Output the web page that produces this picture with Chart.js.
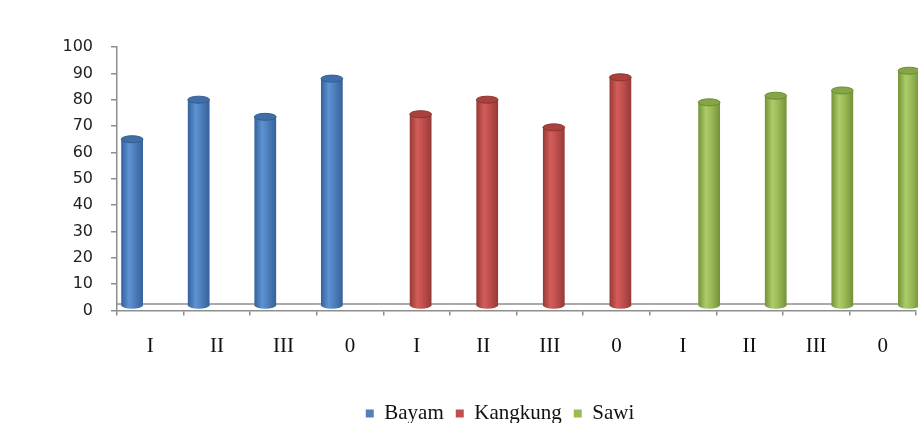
<!DOCTYPE html>
<html>
<head>
<meta charset="utf-8">
<title>Bayam, Kangkung, Sawi</title>
<script src="https://cdn.jsdelivr.net/npm/chart.js@4"></script>
<style>
  html, body { margin: 0; padding: 0; background: #fff; overflow: hidden; }
  canvas { display: block; }
</style>
</head>
<body>
<canvas id="chart" width="918" height="434"></canvas>
<script>
/* ── Data ─────────────────────────────────────────── */
const categories = ["I", "II", "III", "0", "I", "II", "III", "0", "I", "II", "III", "0"];
const seriesNames = ["Bayam", "Kangkung", "Sawi"];
const bayam    = [65, 80, 73.5, 88];
const kangkung = [74.5, 80, 69.5, 88.5];
const sawi     = [79, 81.5, 83.5, 91];

/* ── Look ─────────────────────────────────────────── */
const shades = [
  { base: "#4f81bd", edge: "#35619a", light: "#5d92d3", top: "#3f6ea8", rim: "#345d90" },
  { base: "#c0504d", edge: "#963936", light: "#d35d5a", top: "#a9423f", rim: "#8c3431" },
  { base: "#9bbb59", edge: "#739238", light: "#adcc69", top: "#84a646", rim: "#6d8a35" }
];
const AXIS_GREY = "#8e8e8e";
const SHIFT_X = 4;        // perspective shift of the cylinders
const FLOOR = 6.5;        // depth of the floor
const LEGEND_SHIFT = 12;  // legend sits centred under the plot, not the canvas

// each series only fills its own group of four categories
function inGroup(values, group) {
  const out = new Array(categories.length).fill(null);
  values.forEach((v, i) => { out[group * values.length + i] = v; });
  return out;
}

function drawCylinder(ctx, cx, top, bottom, w, s) {
  const rx = w / 2, ry = 3.5;
  const g = ctx.createLinearGradient(cx - rx, 0, cx + rx, 0);
  g.addColorStop(0, s.edge);
  g.addColorStop(0.35, s.light);
  g.addColorStop(0.6, s.base);
  g.addColorStop(1, s.edge);
  ctx.fillStyle = g;
  ctx.beginPath();
  ctx.moveTo(cx - rx, top);
  ctx.lineTo(cx - rx, bottom);
  ctx.ellipse(cx, bottom, rx, ry, 0, Math.PI, 0, true);
  ctx.lineTo(cx + rx, top);
  ctx.closePath();
  ctx.fill();

  ctx.beginPath();
  ctx.ellipse(cx, top, rx, ry, 0, 0, Math.PI * 2);
  ctx.fillStyle = s.top;
  ctx.fill();
  ctx.lineWidth = 1;
  ctx.strokeStyle = s.rim;
  ctx.stroke();
}

/* ── Cylinder bars + back floor edge ──────────────── */
const cylinders = {
  id: "cylinders",
  afterLayout(chart) {
    chart.legend.left += LEGEND_SHIFT;
    chart.legend.right += LEGEND_SHIFT;
  },
  beforeDatasetsDraw(chart) {
    const { ctx, chartArea } = chart;
    const y0 = chart.scales.y.getPixelForValue(0);
    ctx.save();
    ctx.strokeStyle = AXIS_GREY;
    ctx.lineWidth = 1.5;
    ctx.beginPath();
    ctx.moveTo(chartArea.left, y0 - FLOOR);
    ctx.lineTo(chartArea.right, y0 - FLOOR);
    ctx.stroke();

    chart.data.datasets.forEach((ds, i) => {
      const meta = chart.getDatasetMeta(i);
      if (meta.hidden) return;
      meta.data.forEach((bar, j) => {
        if (ds.data[j] == null) return;
        const { x, y, base, width } = bar.getProps(["x", "y", "base", "width"], true);
        drawCylinder(ctx, x + SHIFT_X, y, base - FLOOR + 2, width, shades[i]);
      });
    });
    ctx.restore();
    return false;
  }
};

new Chart(document.getElementById("chart"), {
  type: "bar",
  data: {
    labels: categories,
    datasets: [bayam, kangkung, sawi].map((vals, i) => ({
      label: seriesNames[i],
      data: inGroup(vals, i),
      backgroundColor: shades[i].base,
      borderWidth: 0,
      barPercentage: 0.98,
      categoryPercentage: 1
    }))
  },
  options: {
    responsive: false,
    animation: false,
    layout: { padding: { top: 47, left: 60, right: 2, bottom: 0 } },
    plugins: {
      tooltip: { enabled: false },
      legend: {
        position: "bottom",
        labels: {
          boxWidth: 8,
          boxHeight: 8,
          padding: 12,
          color: "#111",
          font: { family: "Liberation Serif", size: 21 }
        }
      }
    },
    scales: {
      x: {
        afterFit(scale) { scale.height = 80.5; },
        grid: { drawOnChartArea: false, tickLength: 5, color: AXIS_GREY, lineWidth: 1.5 },
        border: { color: AXIS_GREY, width: 1.5 },
        ticks: { color: "#111", padding: 18, maxRotation: 0, font: { family: "Liberation Serif", size: 21 } }
      },
      y: {
        min: 0,
        max: 100,
        afterFit(scale) { scale.width = 57; },
        grid: { drawOnChartArea: false, tickLength: 6, color: AXIS_GREY, lineWidth: 1.5 },
        border: { color: AXIS_GREY, width: 1.5 },
        ticks: { stepSize: 10, color: "#222", padding: 18, font: { family: "DejaVu Sans", size: 16 } }
      }
    }
  },
  plugins: [cylinders]
});
</script>
</body>
</html>
